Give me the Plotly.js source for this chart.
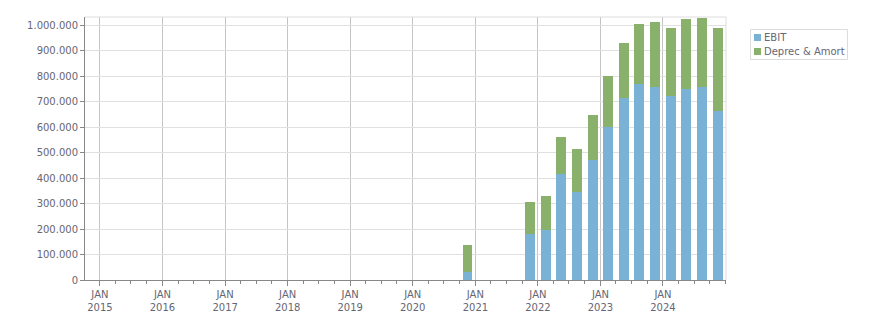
<!DOCTYPE html>
<html>
<head>
<meta charset="utf-8">
<script src="https://cdn.plot.ly/plotly-3.0.1.min.js"></script>
<style>html,body{margin:0;padding:0;background:#fff;}#chart{width:876px;height:313px;}</style>
</head>
<body>
<div id="chart"></div>
<script>
const periods = ["2020-11-16","2021-11-16","2022-02-16","2022-05-16","2022-08-16","2022-11-16","2023-02-16","2023-05-16","2023-08-16","2023-11-16","2024-02-16","2024-05-16","2024-08-16","2024-11-16"];
const ebit = [33000,180000,196000,416000,345000,471000,600000,714000,770000,757000,722000,749000,757000,663000];
const deprecAmort = [105000,126000,133000,145000,169000,176000,200000,215000,234000,255000,266000,275000,270000,325000];
const yearTickVals = ["2015-01-01","2016-01-01","2017-01-01","2018-01-01","2019-01-01","2020-01-01","2021-01-01","2022-01-01","2023-01-01","2024-01-01"];
const yearTickText = ["JAN<br>2015","JAN<br>2016","JAN<br>2017","JAN<br>2018","JAN<br>2019","JAN<br>2020","JAN<br>2021","JAN<br>2022","JAN<br>2023","JAN<br>2024"];
const seriesNames = ["EBIT", "Deprec & Amort"];
const seriesColors = ["#79b2d4", "#8ab16c"];

const barWidth = 58 * 24 * 3600 * 1000;
const font = {family: "DejaVu Sans, Verdana, sans-serif", size: 10, color: "#666674"};

const data = [
  {type: "bar", name: seriesNames[0], x: periods, y: ebit, width: barWidth,
   marker: {color: seriesColors[0], line: {width: 0}}, showlegend: false},
  {type: "bar", name: seriesNames[1], x: periods, y: deprecAmort, width: barWidth,
   marker: {color: seriesColors[1], line: {width: 0}}, showlegend: false}
];

// legend box drawn in paper coordinates (plot area: x 85..726, y 17..280)
const px = v => (v - 85) / 641;
const py = v => (280 - v) / 263;
const shapes = [
  {type: "line", xref: "paper", yref: "paper", x0: 0, x1: 1, y0: 1, y1: 1, line: {color: "#dddddd", width: 1}},
  {type: "line", xref: "paper", yref: "paper", x0: 1, x1: 1, y0: 0, y1: 1, line: {color: "#dddddd", width: 1}},
  {type: "rect", xref: "paper", yref: "paper", x0: px(750.5), x1: px(847.5), y0: py(59.5), y1: py(29.5),
   line: {color: "#dcdcdc", width: 1}, fillcolor: "rgba(0,0,0,0)"}
];
const annotations = [];
seriesNames.forEach((n, i) => {
  const top = 34 + i * 14;
  shapes.push({type: "rect", xref: "paper", yref: "paper", x0: px(754), x1: px(761), y0: py(top + 7), y1: py(top),
               line: {width: 0}, fillcolor: seriesColors[i]});
  annotations.push({xref: "paper", yref: "paper", x: px(763), y: py(top + 3.5), xanchor: "left", yanchor: "middle",
                    text: n, showarrow: false, font: font, borderpad: 0});
});

const layout = {
  width: 876, height: 313,
  margin: {l: 85, r: 150, t: 17, b: 33, pad: 0, autoexpand: false},
  barmode: "stack",
  separators: ",.",
  paper_bgcolor: "#fff", plot_bgcolor: "#fff",
  font: font,
  showlegend: false,
  xaxis: {type: "date", range: ["2014-10-06", "2025-01-03"],
          tickmode: "array", tickvals: yearTickVals, ticktext: yearTickText,
          ticks: "outside", ticklen: 5, tickcolor: "#888", tickwidth: 1,
          showgrid: true, gridcolor: "#c4c4c4", gridwidth: 1,
          showline: true, linecolor: "#888", linewidth: 1,
          zeroline: false, tickfont: font, fixedrange: true,
          minor: {dtick: "M3", tick0: "2015-01-01", ticks: "outside", ticklen: 3, tickcolor: "#888", showgrid: false}},
  yaxis: {range: [0, 1032000], dtick: 100000, tick0: 0, tickformat: ",d",
          ticks: "outside", ticklen: 4, tickcolor: "#888",
          showgrid: true, gridcolor: "#e0e0e0", gridwidth: 1,
          showline: true, linecolor: "#888", linewidth: 1,
          zeroline: false, tickfont: font, fixedrange: true},
  shapes: shapes,
  annotations: annotations
};

Plotly.newPlot("chart", data, layout, {displayModeBar: false, staticPlot: true});
</script>
</body>
</html>
